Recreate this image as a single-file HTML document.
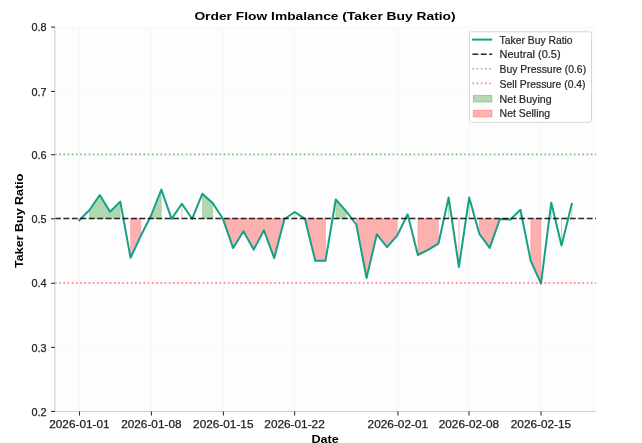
<!DOCTYPE html>
<html><head><meta charset="utf-8"><title>Order Flow Imbalance</title>
<style>
html,body{margin:0;padding:0;background:#fff;}
body{width:642px;height:443px;overflow:hidden;}
svg{display:block;font-family:"Liberation Sans", sans-serif;will-change:transform;}
</style></head>
<body>
<svg width="642" height="443" viewBox="0 0 642 443">
<rect x="54.9" y="27.1" width="541.1" height="384.35" fill="#fdfdfd"/>
<line x1="54.9" x2="596" y1="411.45" y2="411.45" stroke="#000" stroke-opacity="0.035" stroke-width="0.8"/>
<line x1="54.9" x2="596" y1="347.43" y2="347.43" stroke="#000" stroke-opacity="0.035" stroke-width="0.8"/>
<line x1="54.9" x2="596" y1="283.3" y2="283.3" stroke="#000" stroke-opacity="0.035" stroke-width="0.8"/>
<line x1="54.9" x2="596" y1="218.8" y2="218.8" stroke="#000" stroke-opacity="0.035" stroke-width="0.8"/>
<line x1="54.9" x2="596" y1="154.7" y2="154.7" stroke="#000" stroke-opacity="0.035" stroke-width="0.8"/>
<line x1="54.9" x2="596" y1="91.45" y2="91.45" stroke="#000" stroke-opacity="0.035" stroke-width="0.8"/>
<line x1="54.9" x2="596" y1="27.1" y2="27.1" stroke="#000" stroke-opacity="0.035" stroke-width="0.8"/>
<line x1="79.5" x2="79.5" y1="27.1" y2="411.45" stroke="#000" stroke-opacity="0.035" stroke-width="0.8"/>
<line x1="151.45" x2="151.45" y1="27.1" y2="411.45" stroke="#000" stroke-opacity="0.035" stroke-width="0.8"/>
<line x1="223.41" x2="223.41" y1="27.1" y2="411.45" stroke="#000" stroke-opacity="0.035" stroke-width="0.8"/>
<line x1="294.63" x2="294.63" y1="27.1" y2="411.45" stroke="#000" stroke-opacity="0.035" stroke-width="0.8"/>
<line x1="397.94" x2="397.94" y1="27.1" y2="411.45" stroke="#000" stroke-opacity="0.035" stroke-width="0.8"/>
<line x1="469.02" x2="469.02" y1="27.1" y2="411.45" stroke="#000" stroke-opacity="0.035" stroke-width="0.8"/>
<line x1="541.06" x2="541.06" y1="27.1" y2="411.45" stroke="#000" stroke-opacity="0.035" stroke-width="0.8"/>
<polygon points="89.51,210 99.77,195 110.03,211.8 120.29,201.6 120.29,218.5 89.51,218.5" fill="#008000" fill-opacity="0.3" stroke="#008000" stroke-opacity="0.3" stroke-width="0.5"/>
<polygon points="151.08,215.5 161.34,189.6 161.34,218.5 151.08,218.5" fill="#008000" fill-opacity="0.3" stroke="#008000" stroke-opacity="0.3" stroke-width="0.5"/>
<polygon points="181.86,203.7 181.86,218.5 181.86,218.5" fill="#008000" fill-opacity="0.3" stroke="#008000" stroke-opacity="0.3" stroke-width="0.5"/>
<polygon points="202.38,193.7 212.64,203.05 212.64,218.5 202.38,218.5" fill="#008000" fill-opacity="0.3" stroke="#008000" stroke-opacity="0.3" stroke-width="0.5"/>
<polygon points="294.73,212 294.73,218.5 294.73,218.5" fill="#008000" fill-opacity="0.3" stroke="#008000" stroke-opacity="0.3" stroke-width="0.5"/>
<polygon points="335.77,199.5 346.04,211.2 346.04,218.5 335.77,218.5" fill="#008000" fill-opacity="0.3" stroke="#008000" stroke-opacity="0.3" stroke-width="0.5"/>
<polygon points="407.6,214.3 407.6,218.5 407.6,218.5" fill="#008000" fill-opacity="0.3" stroke="#008000" stroke-opacity="0.3" stroke-width="0.5"/>
<polygon points="448.65,197.5 448.65,218.5 448.65,218.5" fill="#008000" fill-opacity="0.3" stroke="#008000" stroke-opacity="0.3" stroke-width="0.5"/>
<polygon points="469.17,197.5 469.17,218.5 469.17,218.5" fill="#008000" fill-opacity="0.3" stroke="#008000" stroke-opacity="0.3" stroke-width="0.5"/>
<polygon points="520.47,209.7 520.47,218.5 520.47,218.5" fill="#008000" fill-opacity="0.3" stroke="#008000" stroke-opacity="0.3" stroke-width="0.5"/>
<polygon points="551.26,202.7 551.26,218.5 551.26,218.5" fill="#008000" fill-opacity="0.3" stroke="#008000" stroke-opacity="0.3" stroke-width="0.5"/>
<polygon points="571.78,204 571.78,218.5 571.78,218.5" fill="#008000" fill-opacity="0.3" stroke="#008000" stroke-opacity="0.3" stroke-width="0.5"/>
<polygon points="79.25,220.3 79.25,218.5 79.25,218.5" fill="#ff0000" fill-opacity="0.3" stroke="#ff0000" stroke-opacity="0.3" stroke-width="0.5"/>
<polygon points="130.56,257.8 140.82,235.8 140.82,218.5 130.56,218.5" fill="#ff0000" fill-opacity="0.3" stroke="#ff0000" stroke-opacity="0.3" stroke-width="0.5"/>
<polygon points="171.6,218.9 171.6,218.5 171.6,218.5" fill="#ff0000" fill-opacity="0.3" stroke="#ff0000" stroke-opacity="0.3" stroke-width="0.5"/>
<polygon points="192.12,218.8 192.12,218.5 192.12,218.5" fill="#ff0000" fill-opacity="0.3" stroke="#ff0000" stroke-opacity="0.3" stroke-width="0.5"/>
<polygon points="222.9,218.8 233.16,248.1 243.43,231.2 253.69,249.6 263.95,230.3 274.21,258.1 284.47,219 284.47,218.5 222.9,218.5" fill="#ff0000" fill-opacity="0.3" stroke="#ff0000" stroke-opacity="0.3" stroke-width="0.5"/>
<polygon points="304.99,218.9 315.25,260.7 325.51,260.7 325.51,218.5 304.99,218.5" fill="#ff0000" fill-opacity="0.3" stroke="#ff0000" stroke-opacity="0.3" stroke-width="0.5"/>
<polygon points="356.3,224.5 366.56,278 376.82,234.3 387.08,247.1 397.34,235.3 397.34,218.5 356.3,218.5" fill="#ff0000" fill-opacity="0.3" stroke="#ff0000" stroke-opacity="0.3" stroke-width="0.5"/>
<polygon points="417.86,255 428.12,249.9 438.38,243.7 438.38,218.5 417.86,218.5" fill="#ff0000" fill-opacity="0.3" stroke="#ff0000" stroke-opacity="0.3" stroke-width="0.5"/>
<polygon points="458.91,267 458.91,218.5 458.91,218.5" fill="#ff0000" fill-opacity="0.3" stroke="#ff0000" stroke-opacity="0.3" stroke-width="0.5"/>
<polygon points="479.43,234 489.69,247.9 499.95,219 510.21,219.6 510.21,218.5 479.43,218.5" fill="#ff0000" fill-opacity="0.3" stroke="#ff0000" stroke-opacity="0.3" stroke-width="0.5"/>
<polygon points="530.73,260.9 540.99,283.5 540.99,218.5 530.73,218.5" fill="#ff0000" fill-opacity="0.3" stroke="#ff0000" stroke-opacity="0.3" stroke-width="0.5"/>
<polygon points="561.52,245.6 561.52,218.5 561.52,218.5" fill="#ff0000" fill-opacity="0.3" stroke="#ff0000" stroke-opacity="0.3" stroke-width="0.5"/>
<polyline points="79.25,220.3 89.51,210 99.77,195 110.03,211.8 120.29,201.6 130.56,257.8 140.82,235.8 151.08,215.5 161.34,189.6 171.6,218.9 181.86,203.7 192.12,218.8 202.38,193.7 212.64,203.05 222.9,218.8 233.16,248.1 243.43,231.2 253.69,249.6 263.95,230.3 274.21,258.1 284.47,219 294.73,212 304.99,218.9 315.25,260.7 325.51,260.7 335.77,199.5 346.04,211.2 356.3,224.5 366.56,278 376.82,234.3 387.08,247.1 397.34,235.3 407.6,214.3 417.86,255 428.12,249.9 438.38,243.7 448.65,197.5 458.91,267 469.17,197.5 479.43,234 489.69,247.9 499.95,219 510.21,219.6 520.47,209.7 530.73,260.9 540.99,283.5 551.26,202.7 561.52,245.6 571.78,204" fill="none" stroke="#16a085" stroke-width="2" stroke-linejoin="round" stroke-linecap="square"/>
<line x1="55.0" x2="596" y1="218.5" y2="218.5" stroke="#000" stroke-opacity="0.85" stroke-width="1.6" stroke-dasharray="5.9 2.54"/>
<line x1="54.9" x2="596" y1="154.4" y2="154.4" stroke="#2ca02c" stroke-opacity="0.62" stroke-width="1.6" stroke-dasharray="1.6 2.62"/>
<line x1="54.9" x2="596" y1="282.9" y2="282.9" stroke="#ff3030" stroke-opacity="0.58" stroke-width="1.6" stroke-dasharray="1.6 2.62"/>
<line x1="54.9" x2="54.9" y1="27.1" y2="412.05" stroke="#d0d0d0" stroke-width="1.1"/>
<line x1="54.35" x2="596" y1="411.45" y2="411.45" stroke="#d0d0d0" stroke-width="1.1"/>
<line x1="51" x2="54.9" y1="411.45" y2="411.45" stroke="#333" stroke-width="1.1"/>
<line x1="51" x2="54.9" y1="347.43" y2="347.43" stroke="#333" stroke-width="1.1"/>
<line x1="51" x2="54.9" y1="283.3" y2="283.3" stroke="#333" stroke-width="1.1"/>
<line x1="51" x2="54.9" y1="218.8" y2="218.8" stroke="#333" stroke-width="1.1"/>
<line x1="51" x2="54.9" y1="154.7" y2="154.7" stroke="#333" stroke-width="1.1"/>
<line x1="51" x2="54.9" y1="91.45" y2="91.45" stroke="#333" stroke-width="1.1"/>
<line x1="51" x2="54.9" y1="27.1" y2="27.1" stroke="#333" stroke-width="1.1"/>
<line x1="79.5" x2="79.5" y1="411.45" y2="415.6" stroke="#333" stroke-width="1.1"/>
<line x1="151.45" x2="151.45" y1="411.45" y2="415.6" stroke="#333" stroke-width="1.1"/>
<line x1="223.41" x2="223.41" y1="411.45" y2="415.6" stroke="#333" stroke-width="1.1"/>
<line x1="294.63" x2="294.63" y1="411.45" y2="415.6" stroke="#333" stroke-width="1.1"/>
<line x1="397.94" x2="397.94" y1="411.45" y2="415.6" stroke="#333" stroke-width="1.1"/>
<line x1="469.02" x2="469.02" y1="411.45" y2="415.6" stroke="#333" stroke-width="1.1"/>
<line x1="541.06" x2="541.06" y1="411.45" y2="415.6" stroke="#333" stroke-width="1.1"/>
<text x="46.5" y="415.6" text-anchor="end" font-size="11" textLength="15.1" lengthAdjust="spacingAndGlyphs" fill="#222" stroke="#222" stroke-width="0.25">0.2</text>
<text x="46.5" y="351.58" text-anchor="end" font-size="11" textLength="15.1" lengthAdjust="spacingAndGlyphs" fill="#222" stroke="#222" stroke-width="0.25">0.3</text>
<text x="46.5" y="287.45" text-anchor="end" font-size="11" textLength="15.1" lengthAdjust="spacingAndGlyphs" fill="#222" stroke="#222" stroke-width="0.25">0.4</text>
<text x="46.5" y="222.95" text-anchor="end" font-size="11" textLength="15.1" lengthAdjust="spacingAndGlyphs" fill="#222" stroke="#222" stroke-width="0.25">0.5</text>
<text x="46.5" y="158.85" text-anchor="end" font-size="11" textLength="15.1" lengthAdjust="spacingAndGlyphs" fill="#222" stroke="#222" stroke-width="0.25">0.6</text>
<text x="46.5" y="95.6" text-anchor="end" font-size="11" textLength="15.1" lengthAdjust="spacingAndGlyphs" fill="#222" stroke="#222" stroke-width="0.25">0.7</text>
<text x="46.5" y="31.25" text-anchor="end" font-size="11" textLength="15.1" lengthAdjust="spacingAndGlyphs" fill="#222" stroke="#222" stroke-width="0.25">0.8</text>
<text x="49.2" y="427.7" font-size="10.6" textLength="60.4" lengthAdjust="spacingAndGlyphs" fill="#222" stroke="#222" stroke-width="0.25">2026-01-01</text>
<text x="121.15" y="427.7" font-size="10.6" textLength="60.4" lengthAdjust="spacingAndGlyphs" fill="#222" stroke="#222" stroke-width="0.25">2026-01-08</text>
<text x="193.11" y="427.7" font-size="10.6" textLength="60.4" lengthAdjust="spacingAndGlyphs" fill="#222" stroke="#222" stroke-width="0.25">2026-01-15</text>
<text x="264.33" y="427.7" font-size="10.6" textLength="60.4" lengthAdjust="spacingAndGlyphs" fill="#222" stroke="#222" stroke-width="0.25">2026-01-22</text>
<text x="367.64" y="427.7" font-size="10.6" textLength="60.4" lengthAdjust="spacingAndGlyphs" fill="#222" stroke="#222" stroke-width="0.25">2026-02-01</text>
<text x="438.72" y="427.7" font-size="10.6" textLength="60.4" lengthAdjust="spacingAndGlyphs" fill="#222" stroke="#222" stroke-width="0.25">2026-02-08</text>
<text x="510.76" y="427.7" font-size="10.6" textLength="60.4" lengthAdjust="spacingAndGlyphs" fill="#222" stroke="#222" stroke-width="0.25">2026-02-15</text>
<text x="194.4" y="20.4" font-size="11.5" font-weight="bold" textLength="261.2" lengthAdjust="spacingAndGlyphs" fill="#000">Order Flow Imbalance (Taker Buy Ratio)</text>
<text x="311.4" y="442.9" font-size="10.7" font-weight="bold" textLength="27.4" lengthAdjust="spacingAndGlyphs" fill="#000">Date</text>
<text transform="translate(23.2,267.9) rotate(-90)" x="0" y="0" font-size="10.8" font-weight="bold" textLength="94.2" lengthAdjust="spacingAndGlyphs" fill="#000">Taker Buy Ratio</text>
<rect x="469.5" y="31.8" width="122" height="90.5" rx="2" ry="2" fill="#ffffff" fill-opacity="0.8" stroke="#d6d6d6" stroke-width="1"/>
<line x1="472" x2="492.2" y1="39.6" y2="39.6" stroke="#16a085" stroke-width="2"/>
<line x1="472.4" x2="492.2" y1="54.2" y2="54.2" stroke="#000" stroke-opacity="0.85" stroke-width="1.6" stroke-dasharray="5.9 2.5"/>
<line x1="472.4" x2="492.2" y1="68.8" y2="68.8" stroke="#2ca02c" stroke-opacity="0.62" stroke-width="1.6" stroke-dasharray="1.6 2.62"/>
<line x1="472.4" x2="492.2" y1="83.4" y2="83.4" stroke="#ff3030" stroke-opacity="0.58" stroke-width="1.6" stroke-dasharray="1.6 2.62"/>
<rect x="473.2" y="95.3" width="18.8" height="6.8" fill="#008000" fill-opacity="0.3" stroke="#008000" stroke-opacity="0.3" stroke-width="0.8"/>
<rect x="473.2" y="110.2" width="18.8" height="6.8" fill="#ff0000" fill-opacity="0.3" stroke="#ff0000" stroke-opacity="0.3" stroke-width="0.8"/>
<text x="499.6" y="43.7" font-size="10.2" textLength="73.0" lengthAdjust="spacingAndGlyphs" fill="#262626" stroke="#262626" stroke-width="0.2">Taker Buy Ratio</text>
<text x="499.6" y="58.2" font-size="10.2" textLength="61.0" lengthAdjust="spacingAndGlyphs" fill="#262626" stroke="#262626" stroke-width="0.2">Neutral (0.5)</text>
<text x="499.6" y="72.8" font-size="10.2" textLength="86.5" lengthAdjust="spacingAndGlyphs" fill="#262626" stroke="#262626" stroke-width="0.2">Buy Pressure (0.6)</text>
<text x="499.6" y="87.5" font-size="10.2" textLength="86.0" lengthAdjust="spacingAndGlyphs" fill="#262626" stroke="#262626" stroke-width="0.2">Sell Pressure (0.4)</text>
<text x="499.6" y="102.6" font-size="10.2" textLength="52.0" lengthAdjust="spacingAndGlyphs" fill="#262626" stroke="#262626" stroke-width="0.2">Net Buying</text>
<text x="499.6" y="116.6" font-size="10.2" textLength="50.5" lengthAdjust="spacingAndGlyphs" fill="#262626" stroke="#262626" stroke-width="0.2">Net Selling</text>
</svg>
</body></html>
